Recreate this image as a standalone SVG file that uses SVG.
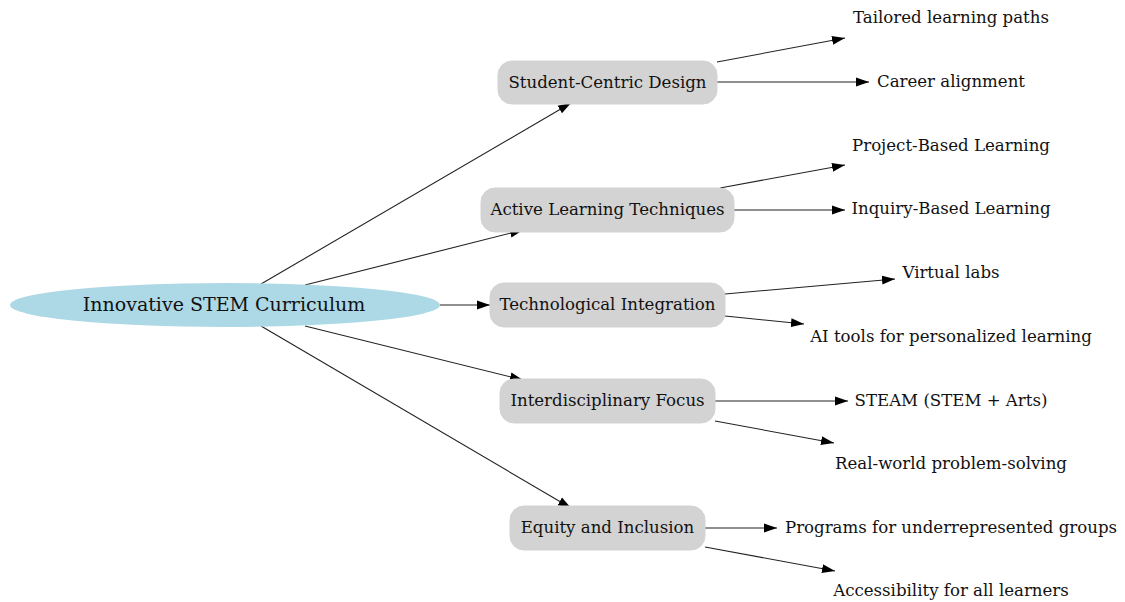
<svg xmlns="http://www.w3.org/2000/svg" width="1125" height="602" viewBox="0 0 1125 602">
  <style>
    text { font-family: "DejaVu Serif", "Liberation Serif", serif; fill: #111; text-anchor: middle; }
    .root-label { font-size: 19px; }
    .topic-label, .leaf-label { font-size: 16.6px; }
    .topic rect { fill: #d3d3d3; stroke: #d3d3d3; }
    .edges line { stroke: #222; stroke-width: 1.1; marker-end: url(#arrow); }
  </style>
  <defs>
    <marker id="arrow" markerUnits="userSpaceOnUse" markerWidth="13" markerHeight="10" refX="13" refY="5" orient="auto" viewBox="0 0 13 10">
      <path d="M0,0.6 L13,5 L0,9.4 z" fill="#000"/>
    </marker>
  </defs>
  <rect width="1125" height="602" fill="#fff"/>

  <!-- connectors -->
  <g id="edges" class="edges">
    <line x1="261" y1="284" x2="571" y2="103"/>
    <line x1="305" y1="285" x2="523" y2="230"/>
    <line x1="440" y1="305" x2="490" y2="305"/>
    <line x1="305" y1="326" x2="523" y2="380"/>
    <line x1="261" y1="326" x2="571" y2="508"/>

    <line x1="717" y1="62" x2="845" y2="38"/>
    <line x1="717" y1="82" x2="869" y2="82"/>
    <line x1="720" y1="188" x2="845" y2="165"/>
    <line x1="734" y1="210" x2="845" y2="210"/>
    <line x1="725" y1="294" x2="895" y2="279"/>
    <line x1="725" y1="316" x2="804" y2="324"/>
    <line x1="715" y1="401" x2="848" y2="401"/>
    <line x1="715" y1="421" x2="834" y2="443"/>
    <line x1="705" y1="528" x2="777" y2="528"/>
    <line x1="705" y1="547" x2="835" y2="571"/>
  </g>

  <!-- central idea -->
  <g id="root">
    <ellipse cx="225" cy="305" rx="215" ry="22" fill="#add8e6"/>
    <text class="root-label" x="224" y="311">Innovative STEM Curriculum</text>
  </g>

  <!-- topic nodes -->
  <g id="student-centric" class="topic">
    <rect x="498" y="61" width="219" height="43" rx="14"/>
    <text class="topic-label" x="607.5" y="88">Student-Centric Design</text>
  </g>
  <g id="active-learning" class="topic">
    <rect x="481" y="188" width="253" height="44" rx="14"/>
    <text class="topic-label" x="607.5" y="215">Active Learning Techniques</text>
  </g>
  <g id="tech-integration" class="topic">
    <rect x="490" y="283" width="235" height="44" rx="14"/>
    <text class="topic-label" x="607.5" y="310">Technological Integration</text>
  </g>
  <g id="interdisciplinary" class="topic">
    <rect x="500" y="379" width="215" height="44" rx="14"/>
    <text class="topic-label" x="607.5" y="406">Interdisciplinary Focus</text>
  </g>
  <g id="equity" class="topic">
    <rect x="510" y="506" width="195" height="44" rx="14"/>
    <text class="topic-label" x="607.5" y="533">Equity and Inclusion</text>
  </g>

  <!-- detail nodes -->
  <g id="tailored-paths"><text class="leaf-label" x="951" y="23">Tailored learning paths</text></g>
  <g id="career-alignment"><text class="leaf-label" x="951" y="87">Career alignment</text></g>
  <g id="project-based"><text class="leaf-label" x="951" y="151">Project-Based Learning</text></g>
  <g id="inquiry-based"><text class="leaf-label" x="951" y="214">Inquiry-Based Learning</text></g>
  <g id="virtual-labs"><text class="leaf-label" x="951" y="278">Virtual labs</text></g>
  <g id="ai-tools"><text class="leaf-label" x="951" y="342">AI tools for personalized learning</text></g>
  <g id="steam"><text class="leaf-label" x="951" y="406">STEAM (STEM + Arts)</text></g>
  <g id="real-world"><text class="leaf-label" x="951" y="469">Real-world problem-solving</text></g>
  <g id="underrepresented"><text class="leaf-label" x="951" y="533">Programs for underrepresented groups</text></g>
  <g id="accessibility"><text class="leaf-label" x="951" y="596">Accessibility for all learners</text></g>
</svg>
